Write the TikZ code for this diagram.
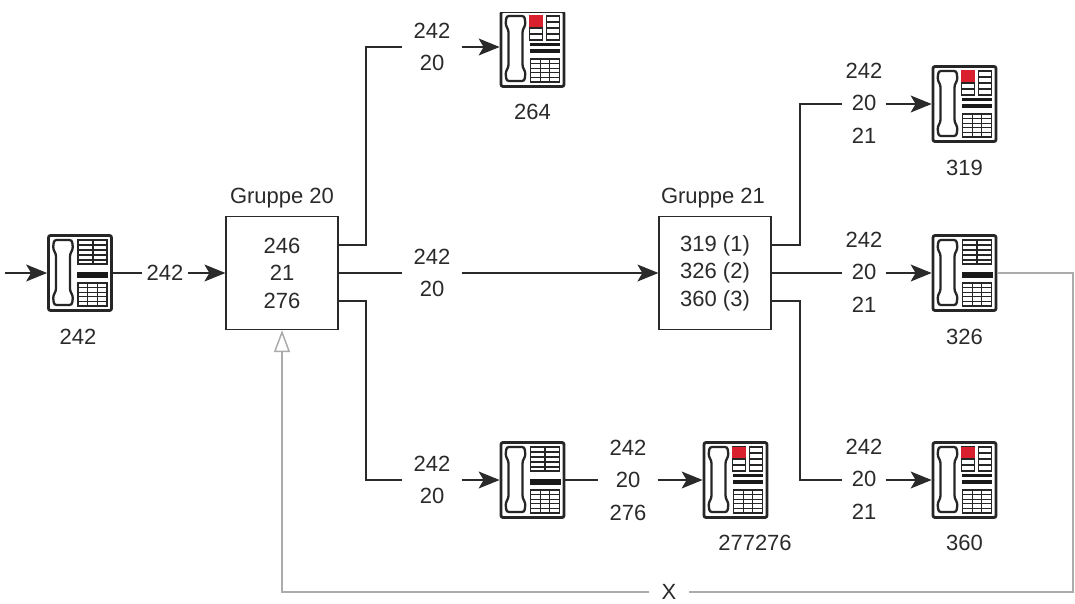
\documentclass[tikz,border=0pt]{standalone}
\usepackage{fontspec}
\setmainfont{Liberation Sans}
\usepackage{tikz}
\usetikzlibrary{arrows.meta}
\definecolor{phonered}{HTML}{D8202F}
\definecolor{lineink}{HTML}{2A2A2A}
\definecolor{backline}{HTML}{ABABAB}
\tikzset{
    x=1pt, y=-1pt,
    every node/.style={font=\fontsize{22}{32.5}\selectfont, text=lineink},
    base/.style={draw=lineink, line width=1.2pt, rectangle, minimum width=112pt, minimum height=113pt, align=center, inner sep=0pt, font=\fontsize{22}{27.5}\selectfont},
    phonebox/.style={draw=black!85, line width=2.8pt, rounded corners=2pt, fill=white, rectangle, minimum width=63pt, minimum height=75pt, inner sep=0pt},
    stack/.style={align=center, inner ysep=0pt, inner xsep=3pt},
    widestack/.style={align=center, inner ysep=0pt, inner xsep=11pt},
    link/.style={draw=lineink, line width=1.2pt},
    arrow/.style={link, -{Stealth[length=21pt, width=17pt, inset=5pt]}},
    backlink/.style={draw=backline, line width=1.5pt},
    handset/.pic={
        \draw[black!85, line width=2.3pt, rounded corners=2.5pt] (-26,-33) -- (-8,-33) -- (-7,-24) -- (-10,-19) -- (-10,18) -- (-7,23) -- (-8,32) -- (-26,32) -- (-27,23) -- (-24,18) -- (-24,-19) -- (-27,-24) -- cycle;
        % keypad
        \draw[black!85, line width=1.3pt] (-2,10) rectangle (27,33);
        \foreach \rowy in {14.6,19.2,23.8,28.4} {\draw[black!85, line width=1.3pt] (-2,\rowy) -- (27,\rowy);}
        \foreach \coly in {7.7,17.3} {\draw[black!85, line width=1.3pt] (\coly,10) -- (\coly,33);}
    },
    phone/.pic={
        \pic {handset};
        \draw[black!85, line width=1.3pt] (-2,-33) rectangle (27,-9);
        \foreach \rowy in {-28,-23,-18,-13} {\draw[black!85, line width=1.3pt] (-2,\rowy) -- (27,\rowy);}
        \draw[black!85, line width=2pt] (12.5,-33) -- (12.5,-9);
        \fill[black!90] (-3,-1) rectangle (28,5);
    },
    phoneflag/.pic={
        \pic {handset};
        \draw[black!85, line width=1.3pt] (-3,-33) rectangle (10,-9);
        \draw[black!85, line width=1.3pt] (14,-33) rectangle (27,-9);
        \foreach \rowy in {-27,-21,-15} {\draw[black!85, line width=1.3pt] (-3,\rowy) -- (10,\rowy) (14,\rowy) -- (27,\rowy);}
        \fill[phonered] (-3.5,-33.5) rectangle (10.5,-22);
        \fill[black!90] (-3,-6) rectangle (27,-3);
        \fill[black!90] (-3,0) rectangle (27,4);
    }
}

\begin{document}
\begin{tikzpicture}
\useasboundingbox (0,0) rectangle (1075,604);
\coordinate (start) at (5,273);

% telephones
\node[phonebox] (p242) at (80,273) {};
\node[phonebox] (p264) at (532.5,49) {};
\node[phonebox] (p276) at (532.5,480) {};
\node[phonebox] (p277276) at (735.5,480) {};
\node[phonebox] (p319) at (964.5,104) {};
\node[phonebox] (p326) at (964.5,273) {};
\node[phonebox] (p360) at (964.5,480) {};
\pic at (p242) {phone};
\pic at (p264) {phoneflag};
\pic at (p276) {phone};
\pic at (p277276) {phoneflag};
\pic at (p319) {phoneflag};
\pic at (p326) {phone};
\pic at (p360) {phoneflag};
\fill[white] (480,0) rectangle (590,12.5);

% numbers under the telephones
\node[below of=p242, node distance=64pt, xshift=-2pt] (n242) {242};
\node[below of=p264, node distance=63pt] (n264) {264};
\node[below of=p319, node distance=64pt] (n319) {319};
\node[below of=p326, node distance=64pt] (n326) {326};
\node[below of=p360, node distance=63pt] (n360) {360};
\node at (755,543) (n277276) {277276};

% groups
\node[base] (g20) at (282,273) {246\\21\\276};
\node[base] (g21) at (715,273) {319 (1)\\326 (2)\\360 (3)};
\node[above of=g20, node distance=75pt] (t20) {Gruppe 20};
\node[above of=g21, node distance=75pt, xshift=-2pt] (t21) {Gruppe 21};

% number stacks on the lines
\node[stack, inner xsep=4pt] (s0) at (165,273) {242};
\node[widestack] (s264) at (432,47) {242\\20};
\node[widestack] (smid) at (432,273) {242\\20};
\node[widestack] (s276) at (432,480) {242\\20};
\node[widestack] (s277) at (628,480) {242\\20\\276};
\node[stack] (s319) at (864,103) {242\\20\\21};
\node[stack] (s326) at (864,272) {242\\20\\21};
\node[stack] (s360) at (864,479) {242\\20\\21};
\node[inner xsep=12pt] (sx) at (669,592) {X};

\draw[arrow] (start) -- (p242);
\draw[link] (p242) -- (s0);
\draw[arrow] (s0) -- (g20);

\draw[link] ([yshift=28pt]g20.east) -| (s264.west -| 366,0) -- (s264.west);
\draw[arrow] (s264.east) -- (s264.east -| p264.west);
\draw[link] (g20) -- (smid);
\draw[arrow] (smid) -- (g21);
\draw[link] ([yshift=-28pt]g20.east) -| (366,480) -- (s276);
\draw[arrow] (s276) -- (p276);
\draw[link] (p276) -- (s277);
\draw[arrow] (s277) -- (p277276);

\draw[link] ([yshift=28pt]g21.east) -| (800,104) -- (s319.west |- p319);
\draw[arrow] (s319.east |- p319) -- (p319);
\draw[link] (g21) -- (s326.west |- p326);
\draw[arrow] (s326.east |- p326) -- (p326);
\draw[link] ([yshift=-28pt]g21.east) -| (800,480) -- (s360.west |- p360);
\draw[arrow] (s360.east |- p360) -- (p360);

% way back
\draw[backlink] (p326) -- (1073,273) -- (1073,592) -- (sx);
\draw[backlink, -{Triangle[open, fill=white, length=22pt, width=16pt]}] (sx) -| (g20);
\end{tikzpicture}
\end{document}
